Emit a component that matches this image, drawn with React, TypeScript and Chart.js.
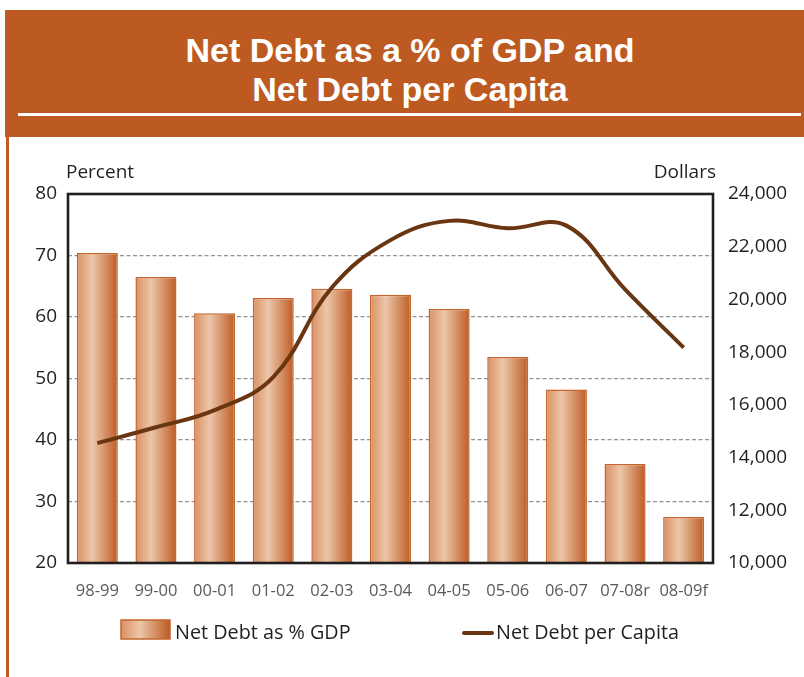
import React, { useEffect, useRef } from "react";
import { Chart, registerables } from "chart.js";

Chart.register(...registerables);

const categories = ["98-99", "99-00", "00-01", "01-02", "02-03", "03-04", "04-05", "05-06", "06-07", "07-08r", "08-09f"];
const debtPctGdp = [70.4, 66.5, 60.6, 63.1, 64.6, 63.6, 61.3, 53.5, 48.2, 36.1, 27.5];
const debtPerCapita = [14550, 15150, 15800, 17050, 20450, 22250, 22980, 22700, 22800, 20380, 18170];
const percentTicks = [20, 30, 40, 50, 60, 70, 80];
const dollarTicks = [10000, 12000, 14000, 16000, 18000, 20000, 22000, 24000];

const titleLines = ["Net Debt as a % of GDP and", "Net Debt per Capita"];
const legendBarLabel = "Net Debt as % GDP";
const legendLineLabel = "Net Debt per Capita";
const leftAxisTitle = "Percent";
const rightAxisTitle = "Dollars";

const ORANGE = "#bd5a22";
const BROWN = "#6a3511";
const FRAME = "#231f20";
const FONT = "'Open Sans', 'Noto Sans', sans-serif";

function barGradient(ctx: CanvasRenderingContext2D, x0: number, x1: number) {
  const g = ctx.createLinearGradient(x0, 0, x1, 0);
  g.addColorStop(0, "#d98f62");
  g.addColorStop(0.38, "#ecc6a9");
  g.addColorStop(1, "#bd5b24");
  return g;
}

const decorPlugin = {
  id: "decor",
  afterDatasetsDraw(chart: any) {
    const { ctx, chartArea } = chart;
    const { left, right, top, bottom } = chartArea;
    ctx.save();
    // frame
    ctx.strokeStyle = FRAME;
    ctx.lineWidth = 2.6;
    ctx.strokeRect(left, top, right - left, bottom - top);

    // axis titles
    ctx.fillStyle = FRAME;
    ctx.font = `19px ${FONT}`;
    ctx.textBaseline = "alphabetic";
    ctx.textAlign = "left";
    ctx.fillText(leftAxisTitle, 66, 178);
    ctx.textAlign = "right";
    ctx.fillText(rightAxisTitle, 716, 178);

    // legend: bar
    ctx.font = `19.8px ${FONT}`;
    const bx = 121, by = 620, bw = 49, bh = 19;
    ctx.fillStyle = barGradient(ctx, bx, bx + bw);
    ctx.fillRect(bx, by, bw, bh);
    ctx.strokeStyle = "#c4652d";
    ctx.lineWidth = 1.5;
    ctx.strokeRect(bx, by, bw, bh);
    ctx.fillStyle = FRAME;
    ctx.textAlign = "left";
    ctx.fillText(legendBarLabel, 175, 639);

    // legend: line
    ctx.strokeStyle = BROWN;
    ctx.lineWidth = 4;
    ctx.lineCap = "round";
    ctx.beginPath();
    ctx.moveTo(464, 633);
    ctx.lineTo(492, 633);
    ctx.stroke();
    ctx.fillText(legendLineLabel, 496, 639);
    ctx.restore();
  },
};

export default function App() {
  const canvasRef = useRef<HTMLCanvasElement | null>(null);

  useEffect(() => {
    const canvas = canvasRef.current;
    if (!canvas) return;
    const chart = new Chart(canvas, {
      type: "bar",
      data: {
        labels: categories,
        datasets: [
          {
            type: "line",
            label: legendLineLabel,
            data: debtPerCapita,
            yAxisID: "y1",
            borderColor: BROWN,
            borderWidth: 4,
            pointRadius: 0,
            tension: 0.4,
            fill: false,
            order: 0,
          } as any,
          {
            type: "bar",
            label: legendBarLabel,
            data: debtPctGdp,
            yAxisID: "y",
            order: 1,
            barPercentage: 0.7,
            categoryPercentage: 1,
            borderColor: "#c4652d",
            borderWidth: 1.5,
            borderSkipped: false,
            backgroundColor: (c: any) => {
              const ch = c.chart;
              const xs = ch.scales && ch.scales.x;
              if (!xs || !ch.chartArea || c.dataIndex === undefined) return "#dd9f78";
              const cx = xs.getPixelForValue(c.dataIndex);
              const w = (xs.width / categories.length) * 0.7;
              return barGradient(ch.ctx, cx - w / 2, cx + w / 2);
            },
          } as any,
        ],
      },
      options: {
        animation: false,
        responsive: false,
        devicePixelRatio: 1,
        layout: { padding: { top: 194, left: 0, right: 0, bottom: 0 } },
        plugins: {
          legend: { display: false },
          tooltip: { enabled: false },
          title: { display: false },
        },
        scales: {
          x: {
            grid: { display: false, drawTicks: false },
            border: { display: false },
            ticks: {
              color: "#58595b",
              font: { family: FONT, size: 16.5 },
              padding: 18,
              maxRotation: 0,
              autoSkip: false,
            },
            afterFit: (s: any) => {
              s.height = 114;
            },
          },
          y: {
            position: "left",
            min: 20,
            max: 80,
            afterBuildTicks: (s: any) => {
              s.ticks = percentTicks.map((v) => ({ value: v }));
            },
            grid: {
              drawTicks: false,
              color: (c: any) =>
                c.tick && (c.tick.value === 20 || c.tick.value === 80) ? "rgba(0,0,0,0)" : "#939393",
              lineWidth: 1.3,
            },
            border: { display: false, dash: [4, 2.5] },
            ticks: {
              color: FRAME,
              font: { family: FONT, size: 19 },
              padding: 11,
            },
            afterFit: (s: any) => {
              s.width = 68;
            },
          },
          y1: {
            position: "right",
            min: 10000,
            max: 24000,
            afterBuildTicks: (s: any) => {
              s.ticks = dollarTicks.map((v) => ({ value: v }));
            },
            grid: { display: false, drawTicks: false },
            border: { display: false },
            ticks: {
              color: FRAME,
              font: { family: FONT, size: 19 },
              padding: 15,
              callback: (v: any) => Number(v).toLocaleString("en-US"),
            },
            afterFit: (s: any) => {
              s.width = 91;
            },
          },
        },
      } as any,
      plugins: [decorPlugin],
    });
    return () => chart.destroy();
  }, []);

  return (
    <div
      style={{
        position: "absolute",
        left: 0,
        top: 0,
        width: 804,
        height: 677,
        background: "#ffffff",
        overflow: "hidden",
      }}
    >
      <div
        style={{
          position: "absolute",
          left: 5,
          top: 10,
          width: 799,
          height: 127,
          background: ORANGE,
        }}
      />
      <div
        style={{
          position: "absolute",
          left: 10,
          top: 30.5,
          width: 800,
          textAlign: "center",
          color: "#ffffff",
          fontFamily: "'Liberation Sans', Arial, sans-serif",
          fontWeight: "bold",
          fontSize: 34,
          lineHeight: "39.5px",
        }}
      >
        {titleLines.map((t) => (
          <div key={t}>{t}</div>
        ))}
      </div>
      <div
        style={{
          position: "absolute",
          left: 18,
          top: 113,
          width: 783,
          height: 3,
          background: "#ffffff",
        }}
      />
      <div
        style={{
          position: "absolute",
          left: 6,
          top: 137,
          width: 2.5,
          height: 540,
          background: ORANGE,
        }}
      />
      <canvas
        ref={canvasRef}
        width={804}
        height={677}
        style={{ position: "absolute", left: 0, top: 0, width: 804, height: 677 }}
      />
    </div>
  );
}
